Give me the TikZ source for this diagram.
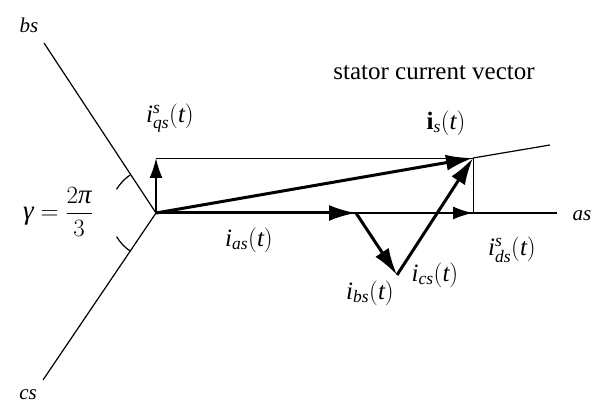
\documentclass[tikz,border=0pt]{standalone}
\usepackage{amsmath}
\usepackage{fontspec}
\setmainfont{Liberation Serif}
\usetikzlibrary{arrows.meta}
\newcommand{\gk}[1]{\text{\itshape #1}}

\begin{document}
\begin{tikzpicture}[x=1pt,y=1pt,font=\fontsize{25}{30}\selectfont,
    axis/.style={line width=1.2pt},
    proj/.style={line width=0.8pt},
    vec/.style={line width=3pt,-{Latex[length=27pt,width=16pt]}},
    comp/.style={line width=1.8pt,-{Latex[length=20pt,width=13pt]}},
    axlabel/.style={font=\fontsize{21}{25}\selectfont}]
    \useasboundingbox (0,0) rectangle (598,404);

    % Points
    \coordinate (O) at (156,191);
    \coordinate (as) at (557,191);
    \coordinate (bs) at (44,361);
    \coordinate (cs) at (43,24);
    \coordinate (A) at (356,191);
    \coordinate (B) at (397,129);
    \coordinate (S) at (473,246);
    \coordinate (Q) at (156,246);
    \coordinate (D) at (473,191);
    \coordinate (E) at (550,259);

    % Axes
    \draw[axis] (O) -- (as);
    \draw[axis] (O) -- (bs);
    \draw[axis] (O) -- (cs);
    \draw[axis] (S) -- (E);

    % Angle marks
    \draw[axis] ([shift={(124:46)}]O) arc (124:149:46);
    \draw[axis] ([shift={(211:46)}]O) arc (211:236:46);

    % Projections
    \draw[proj] (Q) -- (S) -- (D);

    % Components
    \draw[comp] (O) -- (Q);
    \draw[comp] (O) -- (D);

    % Phase currents
    \draw[vec] (O) -- (A);
    \draw[vec] (A) -- (B);
    \draw[vec] (B) -- (S);

    % Current vector
    \draw[vec] (O) -- (S);

    % Labels
    \node[axlabel] (lbs) at (29,379) {$\mathit{bs}$};
    \node[axlabel] (lcs) at (28,9) {$\mathit{cs}$};
    \node[axlabel] (las) at (582,188) {$\mathit{as}$};
    \node (title) at (434,331) {stator current vector};
    \node (lis) at (446,281) {$\mathbf{i}_{\mathit{s}}(\mathit{t})$};
    \node (lqs) at (170,286) {$\mathit{i}_{\mathit{qs}}^{\mathit{s}}(\mathit{t})$};
    \node (lds) at (512,154) {$\mathit{i}_{\mathit{ds}}^{\mathit{s}}(\mathit{t})$};
    \node (lia) at (249,164) {$\mathit{i}_{\mathit{as}}(\mathit{t})$};
    \node (lib) at (370,111) {$\mathit{i}_{\mathit{bs}}(\mathit{t})$};
    \node (lic) at (435,129) {$\mathit{i}_{\mathit{cs}}(\mathit{t})$};
    \node[font=\fontsize{27}{32}\selectfont] (lgam) at (58,192) {$\gk{γ}=\dfrac{2\gk{π}}{3}$};
\end{tikzpicture}
\end{document}
